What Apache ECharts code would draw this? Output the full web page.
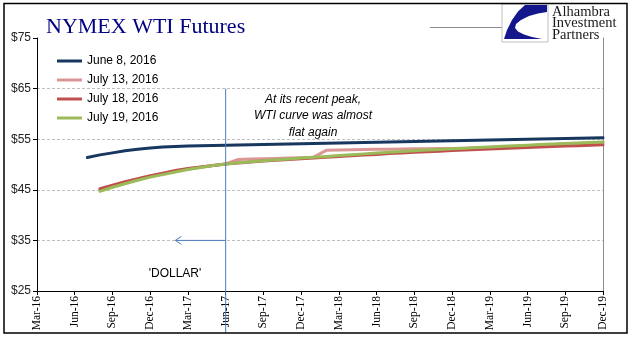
<!DOCTYPE html>
<html>
<head>
<meta charset="utf-8">
<script src="https://cdn.jsdelivr.net/npm/echarts@6/dist/echarts.min.js"></script>
<style>
  html, body { margin: 0; padding: 0; background: #fff; }
  #chart { width: 641px; height: 341px; }
</style>
</head>
<body>
<div id="chart"></div>
<script>
// Monthly contract months on the curve
const months = [
  'Mar-16','Apr-16','May-16','Jun-16','Jul-16','Aug-16','Sep-16','Oct-16','Nov-16','Dec-16',
  'Jan-17','Feb-17','Mar-17','Apr-17','May-17','Jun-17','Jul-17','Aug-17','Sep-17','Oct-17','Nov-17','Dec-17',
  'Jan-18','Feb-18','Mar-18','Apr-18','May-18','Jun-18','Jul-18','Aug-18','Sep-18','Oct-18','Nov-18','Dec-18',
  'Jan-19','Feb-19','Mar-19','Apr-19','May-19','Jun-19','Jul-19','Aug-19','Sep-19','Oct-19','Nov-19','Dec-19'
];

// Futures curves, $/bbl, one value per contract month
const curveJune8 = [null, null, null, null,
  51.4, 51.9, 52.3, 52.7, 53.0, 53.25,
  53.45, 53.55, 53.65, 53.7, 53.75, 53.8, 53.85, 53.9, 53.95, 54.0, 54.05, 54.1,
  54.15, 54.2, 54.25, 54.3, 54.35, 54.4, 54.45, 54.5, 54.55, 54.6, 54.65, 54.7,
  54.75, 54.8, 54.85, 54.9, 54.95, 55.0, 55.05, 55.1, 55.15, 55.2, 55.25, 55.3];

const curveJuly13 = [null, null, null, null, null,
  45.0, 45.7, 46.4, 47.0, 47.6,
  48.1, 48.6, 49.1, 49.45, 49.8, 50.1, 51.0, 51.1, 51.15, 51.2, 51.3, 51.35,
  51.45, 52.8, 52.85, 52.9, 52.95, 53.0, 53.0, 53.05, 53.1, 53.1, 53.15, 53.15,
  53.2, 53.3, 53.4, 53.5, 53.6, 53.7, 53.85, 53.95, 54.05, 54.15, 54.25, 54.35];

const curveJuly18 = [null, null, null, null, null,
  45.2, 45.9, 46.6, 47.2, 47.8,
  48.3, 48.8, 49.2, 49.5, 49.8, 50.1, 50.3, 50.5, 50.7, 50.85, 51.0, 51.15,
  51.3, 51.45, 51.6, 51.75, 51.9, 52.0, 52.15, 52.25, 52.4, 52.5, 52.6, 52.75,
  52.85, 52.95, 53.05, 53.15, 53.25, 53.35, 53.45, 53.55, 53.65, 53.7, 53.8, 53.9];

const curveJuly19 = [null, null, null, null, null,
  44.7, 45.5, 46.2, 46.9, 47.5,
  48.0, 48.5, 49.0, 49.4, 49.8, 50.1, 50.35, 50.55, 50.75, 50.95, 51.1, 51.3,
  51.45, 51.6, 51.8, 51.95, 52.1, 52.25, 52.4, 52.55, 52.7, 52.85, 52.95, 53.1,
  53.2, 53.35, 53.45, 53.6, 53.7, 53.8, 53.95, 54.05, 54.15, 54.25, 54.35, 54.45];

const seriesNames = ['June 8, 2016', 'July 13, 2016', 'July 18, 2016', 'July 19, 2016'];
const seriesColors = ['#17375E', '#D99694', '#C0504D', '#9BBB59'];
const seriesData = [curveJune8, curveJuly13, curveJuly18, curveJuly19];

const yTicks = [25, 35, 45, 55, 65, 75];
const peakMonth = 'Jun-17';
const arrowEndMonth = 'Feb-17';

const chart = echarts.init(document.getElementById('chart'), null, { renderer: 'canvas' });

const option = {
  animation: false,
  backgroundColor: '#ffffff',
  title: {
    text: 'NYMEX WTI Futures',
    left: 41,
    top: 11,
    textStyle: {
      fontFamily: 'Liberation Serif',
      fontSize: 22,
      fontWeight: 'normal',
      color: '#000080'
    }
  },
  legend: {
    orient: 'vertical',
    left: 52,
    top: 50,
    itemWidth: 25,
    itemHeight: 3,
    itemGap: 7,
    icon: 'rect',
    data: seriesNames,
    textStyle: { fontFamily: 'Liberation Sans', fontSize: 12, color: '#000' }
  },
  grid: { left: 37, right: 38, top: 38, bottom: 50, containLabel: false },
  xAxis: {
    type: 'category',
    data: months,
    boundaryGap: false,
    axisLine: { lineStyle: { color: '#000', width: 1 } },
    axisTick: { interval: 2, length: 4, lineStyle: { color: '#000' } },
    axisLabel: {
      interval: 2,
      rotate: 90,
      margin: 5,
      fontFamily: 'Liberation Serif',
      fontSize: 11.5,
      color: '#000'
    },
    splitLine: { show: false }
  },
  yAxis: [{
    type: 'value',
    min: yTicks[0],
    max: yTicks[yTicks.length - 1],
    interval: 10,
    axisLine: { show: true, lineStyle: { color: '#000', width: 1 } },
    axisTick: { show: true, length: 4, lineStyle: { color: '#000' } },
    axisLabel: {
      formatter: '${value}',
      margin: 6,
      fontFamily: 'Liberation Sans Narrow, Liberation Sans',
      fontSize: 12,
      color: '#222'
    },
    splitLine: {
      show: true,
      showMinLine: false,
      showMaxLine: false,
      lineStyle: { color: '#BFBFBF', type: [3, 2], width: 1 }
    }
  }, {
    type: 'value',
    position: 'right',
    min: yTicks[0],
    max: yTicks[yTicks.length - 1],
    interval: 10,
    axisLine: { show: true, lineStyle: { color: '#8C8C8C', width: 1 } },
    axisTick: { show: false },
    axisLabel: { show: false },
    splitLine: { show: false }
  }],
  series: seriesNames.map((name, i) => ({
    name: name,
    type: 'line',
    data: seriesData[i],
    symbol: 'none',
    smooth: false,
    connectNulls: false,
    color: seriesColors[i],
    lineStyle: { width: 3, color: seriesColors[i], cap: 'round', join: 'round' }
  }))
};

chart.setOption(option);

// Annotation overlay placed from the axis scales
const peakTop = chart.convertToPixel({ xAxisIndex: 0, yAxisIndex: 0 }, [peakMonth, 65]);
const arrowStart = chart.convertToPixel({ xAxisIndex: 0, yAxisIndex: 0 }, [peakMonth, 35]);
const arrowEnd = chart.convertToPixel({ xAxisIndex: 0, yAxisIndex: 0 }, [arrowEndMonth, 35]);
const accent = '#4A7EBB';

// logo swoosh outline (crescent wedge)
const swoosh = [
  [525, 5], [547, 5], [547, 12], [538, 13.5], [529, 16], [521, 20], [516, 24], [515, 28],
  [518, 31.5], [524, 34.5], [532, 37], [542, 39], [504, 39], [507, 30], [512, 20], [518, 11.5]
];

chart.setOption({
  graphic: [
    // outer frame
    { type: 'rect', shape: { x: 4, y: 3.5, width: 623, height: 329.5 },
      style: { fill: 'none', stroke: '#000', lineWidth: 1.5 }, z: 100 },
    // header rule leading to the logo
    { type: 'line', shape: { x1: 430, y1: 27.5, x2: 502, y2: 27.5 },
      style: { stroke: '#8C8C8C', lineWidth: 1 } },
    // logo mark
    { type: 'rect', shape: { x: 502, y: 4, width: 46, height: 38 },
      style: { fill: '#fff', stroke: '#BFBFBF', lineWidth: 1 } },
    { type: 'polygon', shape: { points: swoosh }, style: { fill: '#14168C' } },
    { type: 'text', x: 552, y: 6,
      style: { text: 'Alhambra\nInvestment\nPartners', fontFamily: 'Liberation Serif',
        fontSize: 14.5, lineHeight: 11.5, fill: '#1a1a1a', verticalAlign: 'top' } },
    // peak marker line
    { type: 'line', shape: { x1: peakTop[0], y1: peakTop[1], x2: peakTop[0], y2: 333 },
      style: { stroke: accent, lineWidth: 1 }, z: 50 },
    // arrow back toward the dollar period
    { type: 'line', shape: { x1: arrowStart[0], y1: arrowStart[1], x2: arrowEnd[0], y2: arrowEnd[1] },
      style: { stroke: accent, lineWidth: 1 }, z: 50 },
    { type: 'polyline', shape: { points: [
        [arrowEnd[0] + 6, arrowEnd[1] - 4], [arrowEnd[0], arrowEnd[1]], [arrowEnd[0] + 6, arrowEnd[1] + 4]
      ] },
      style: { stroke: accent, lineWidth: 1, fill: null }, z: 50 },
    // text callouts
    { type: 'text', x: 313, y: 91,
      style: { text: 'At its recent peak,\nWTI curve was almost\nflat again',
        fontFamily: 'Liberation Sans', fontStyle: 'italic', fontSize: 12, lineHeight: 16.5,
        fill: '#000', align: 'center', verticalAlign: 'top' }, z: 60 },
    { type: 'text', x: 175, y: 274,
      style: { text: "'DOLLAR'", fontFamily: 'Liberation Sans', fontSize: 12,
        fill: '#000', align: 'center', verticalAlign: 'middle' }, z: 60 }
  ]
});
</script>
</body>
</html>
